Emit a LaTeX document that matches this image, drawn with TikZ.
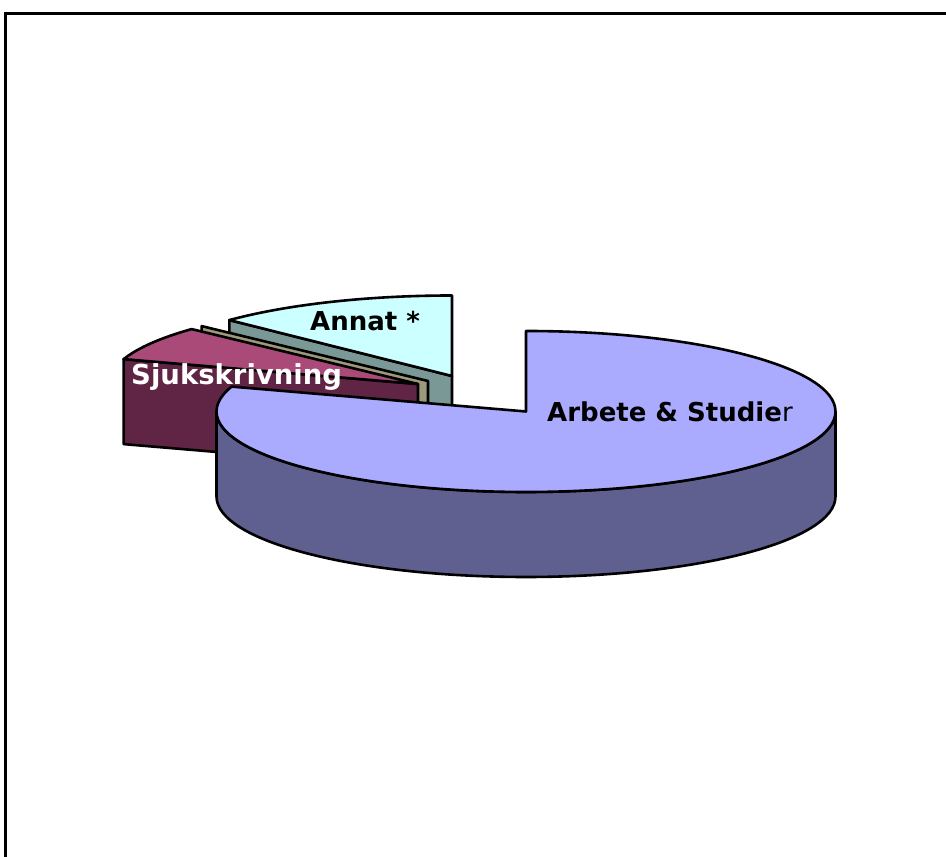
\documentclass[tikz,border=0pt]{standalone}
\usepackage{fontspec}
\setmainfont{DejaVu Sans}
\usetikzlibrary{calc}
\definecolor{bluetop}{HTML}{AAAAFF}
\definecolor{blueside}{HTML}{606090}
\definecolor{cyantop}{HTML}{CCFFFF}
\definecolor{cyanside}{HTML}{7A9996}
\definecolor{khakiside}{HTML}{9C9A7A}
\definecolor{pinktop}{HTML}{A94A78}
\definecolor{pinkside}{HTML}{602444}
\tikzset{
  piece/.style={draw=black, line width=2.6pt, line join=round},
  ell/.style={x radius=309.5, y radius=80.5},
  lbl/.style={font=\fontsize{26}{30}\selectfont, inner sep=0pt, anchor=base west},
}
\begin{document}
\begin{tikzpicture}[x=1pt,y=1pt]
\useasboundingbox (0,0) rectangle (946,857);
\clip (0,0) rectangle (946,857);
\fill[white] (0,0) rectangle (946,857);
% frame
\draw[line width=3pt] (5,-10) -- (5,843) -- (960,843);
% apexes
\coordinate (C) at (526,445.5);
\coordinate (A1) at (452,481);
\coordinate (A2) at (428,476);
\coordinate (A3) at (418,473);
\coordinate (a1r) at ($(A1)+(136:309.5 and 80.5)$);
\coordinate (a2r) at ($(A2)+(137:309.5 and 80.5)$);
\coordinate (a3r) at ($(A3)+(162:309.5 and 80.5)$);
% Annat
\draw[piece, fill=cyanside] (A1) -- (a1r) -- ++(0,-85) -- ($(A1)+(0,-85)$) -- cycle;
\draw[piece, fill=cyantop] (A1) -- ++(90:309.5 and 80.5) arc[start angle=90, end angle=136, ell] -- cycle;
% thin slice
\draw[piece, fill=khakiside] (A2) -- (a2r) -- ++(0,-85) -- ($(A2)+(0,-85)$) -- cycle;
% Sjukskrivning
\draw[piece, fill=pinkside] (A3) -- (a3r) -- ++(0,-85) -- ($(A3)+(0,-85)$) -- cycle;
\draw[piece, fill=pinktop] (A3) -- ++(137:309.5 and 80.5) arc[start angle=137, end angle=162, ell] -- cycle;
% Arbete & Studier
\draw[piece, fill=blueside] ($(C)+(180:309.5 and 80.5)$) arc[start angle=180, end angle=360, ell] -- ++(0,-85) arc[start angle=360, end angle=180, ell] -- cycle;
\draw[piece, fill=bluetop] (C) -- ++(90:309.5 and 80.5) arc[start angle=90, end angle=-198, ell] -- cycle;
% labels
\node[lbl] (lannat) at (310,526) {\bfseries Annat *};
\node[lbl, text=white, font=\fontsize{27.5}{30}\selectfont] (lsjuk) at (131,472) {\bfseries Sjukskrivning};
\node[lbl] (larb) at (547,435) {\textbf{Arbete \& Studie}r};
\end{tikzpicture}
\end{document}
